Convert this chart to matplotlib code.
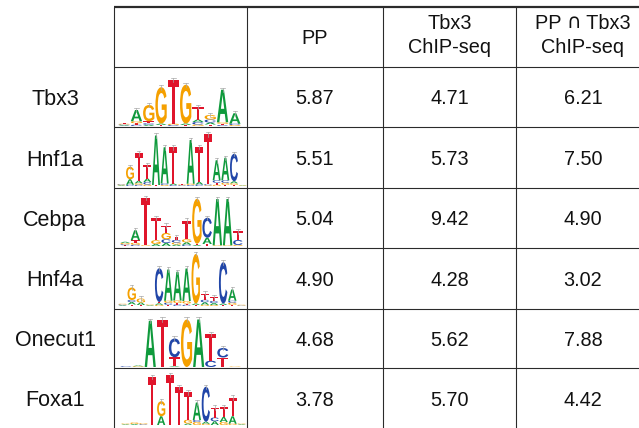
import matplotlib
matplotlib.use("Agg")
import matplotlib.pyplot as plt
from matplotlib.textpath import TextPath
from matplotlib.patches import PathPatch
from matplotlib.transforms import Affine2D
from matplotlib.font_manager import FontProperties
from matplotlib.offsetbox import TextArea, HPacker, AnnotationBbox

# ---------------------------------------------------------------- data
factors = ["Tbx3", "Hnf1a", "Cebpa", "Hnf4a", "Onecut1", "Foxa1"]
col_headers = ["PP", "Tbx3\nChIP-seq", "PP \u2229 Tbx3\nChIP-seq"]
pp_scores = [5.87, 5.51, 5.04, 4.90, 4.68, 3.78]
tbx3_chip_scores = [4.71, 5.73, 9.42, 4.28, 5.62, 5.70]
overlap_scores = [6.21, 7.50, 4.90, 3.02, 7.88, 4.42]

# sequence logos: one stack per position, letters bottom -> top, height in bits
logo_tbx3 = [
    [("A", .03), ("C", .03), ("G", .03), ("T", .03)],
    [("C", .05), ("T", .06), ("G", .08), ("A", .45)],
    [("A", .05), ("C", .06), ("T", .08), ("G", .65)],
    [("T", .04), ("A", .06), ("G", 1.45)],
    [("C", .04), ("G", .05), ("T", 1.75)],
    [("T", .04), ("A", .06), ("G", 1.55)],
    [("G", .06), ("C", .10), ("A", .10), ("T", .50)],
    [("T", .06), ("A", .08), ("C", .12), ("G", .18)],
    [("C", .04), ("T", .05), ("G", .06), ("A", 1.30)],
    [("G", .04), ("C", .05), ("A", .42)],
]
logo_hnf1a = [
    [("A", .03), ("G", .03), ("C", .02)],
    [("C", .05), ("A", .22), ("G", .50)],
    [("C", .05), ("G", .06), ("A", .10), ("T", 1.10)],
    [("G", .06), ("C", .10), ("A", .14), ("T", .55)],
    [("T", .04), ("A", 1.98)],
    [("G", .04), ("C", .06), ("A", 1.45)],
    [("C", .04), ("A", .06), ("T", 1.45)],
    [("C", .03), ("G", .03), ("T", .04)],
    [("C", .04), ("G", .05), ("A", 1.75)],
    [("C", .06), ("A", .10), ("T", 1.40)],
    [("G", .03), ("C", .04), ("T", 2.00)],
    [("G", .05), ("T", .08), ("C", .10), ("A", .80)],
    [("T", .05), ("G", .08), ("C", .10), ("A", .90)],
    [("T", .05), ("G", .06), ("A", .08), ("C", 1.10)],
    [("A", .02), ("G", .02)],
]
logo_cebpa = [
    [("T", .03), ("C", .04), ("G", .05), ("A", .05)],
    [("C", .05), ("G", .08), ("T", .10), ("A", .40)],
    [("G", .03), ("T", 1.90)],
    [("A", .08), ("G", .15), ("T", .90)],
    [("A", .12), ("C", .15), ("G", .25), ("T", .30)],
    [("A", .06), ("G", .08), ("C", .10), ("T", .12)],
    [("C", .05), ("A", .10), ("G", .12), ("T", .75)],
    [("A", .04), ("T", .05), ("G", 1.80)],
    [("T", .08), ("A", .25), ("C", .80)],
    [("G", .03), ("A", 1.85)],
    [("G", .03), ("A", 1.85)],
    [("G", .04), ("C", .20), ("T", .35)],
]
logo_hnf4a = [
    [("A", .03), ("C", .03), ("G", .03)],
    [("T", .06), ("A", .10), ("C", .08), ("G", .50)],
    [("T", .04), ("A", .10), ("G", .16)],
    [("A", .03), ("G", .03)],
    [("G", .05), ("A", .06), ("T", .05), ("C", 1.35)],
    [("T", .05), ("C", .08), ("G", .08), ("A", 1.25)],
    [("C", .06), ("T", .06), ("G", .10), ("A", 1.15)],
    [("C", .05), ("T", .05), ("G", .10), ("A", 1.30)],
    [("T", .04), ("A", .06), ("G", 1.98)],
    [("G", .05), ("A", .10), ("C", .10), ("T", .25)],
    [("G", .04), ("A", .08), ("C", .08), ("T", .15)],
    [("T", .04), ("A", .06), ("C", 1.65)],
    [("T", .05), ("G", .08), ("C", .08), ("A", .45)],
    [("C", .02), ("G", .03)],
]
logo_onecut1 = [
    [("C", .03), ("T", .03)],
    [("G", .03), ("A", .03)],
    [("A", 1.85)],
    [("T", 1.90)],
    [("A", .03), ("T", .36), ("C", .75)],
    [("G", 1.90)],
    [("A", 1.90)],
    [("C", .25), ("T", 1.07)],
    [("T", .38), ("C", .38)],
    [("G", .02)],
]
logo_foxa1 = [
    [("A", .03), ("G", .03)],
    [("A", .04), ("G", .06)],
    [("C", .03), ("G", .04)],
    [("T", 1.92)],
    [("A", .35), ("G", .60)],
    [("T", 2.00)],
    [("T", 1.52)],
    [("A", .06), ("G", .15), ("T", 1.10)],
    [("G", .12), ("C", .08), ("A", .70)],
    [("G", .05), ("A", .08), ("C", 1.40)],
    [("A", .15), ("C", .15), ("T", .40)],
    [("G", .12), ("A", .20), ("T", .40)],
    [("G", .05), ("A", .30), ("T", .75)],
    [("A", .03), ("G", .03)],
]
logos = [logo_tbx3, logo_hnf1a, logo_cebpa, logo_hnf4a, logo_onecut1, logo_foxa1]

# ---------------------------------------------------------------- style
W, H = 639, 428
LINE_COLOR = "#2b2b2b"
TEXT_COLOR = "#111111"
BASE_COLORS = {"A": "#0f9a3c", "C": "#2146a8", "G": "#f5a000", "T": "#e0152b"}
FONT = ["Liberation Sans", "DejaVu Sans"]
GLYPH_FP = FontProperties(family="Liberation Sans", weight="bold")

# table grid (pixels)
col_edges = [114, 247, 383, 516]
row_edges = [7, 67, 127, 188, 248, 309, 368, 429]
label_x = 55
value_cols_x = [315, 449.5, 583]
# horizontal extent and baseline of each logo (pixels)
logo_spans = [(118, 241), (117, 247), (120, 243), (118, 246), (120, 241), (121, 246)]
logo_baselines = [126, 186, 246, 306, 367, 425]
PX_PER_BIT = 25.0
LOGO_HEIGHT_PX = 57
ERR = 0.09

HEADER_SIZE = 14.3
LABEL_SIZE = 15.5
VALUE_SIZE = 14.3

fig = plt.figure(figsize=(W / 100, H / 100), dpi=100)
fig.patch.set_facecolor("white")
ax = fig.add_axes([0, 0, 1, 1])
ax.set_xlim(0, W)
ax.set_ylim(H, 0)
ax.axis("off")

px = 0.72  # points per pixel at 100 dpi

# grid lines
ax.plot([col_edges[0], W], [row_edges[0], row_edges[0]], color=LINE_COLOR,
        lw=2.2 * px, solid_capstyle="butt")
for y in row_edges[1:-1]:
    ax.plot([col_edges[0], W], [y, y], color=LINE_COLOR, lw=1.1 * px,
            solid_capstyle="butt")
for x in col_edges:
    ax.plot([x, x], [row_edges[0], H], color=LINE_COLOR, lw=1.1 * px,
            solid_capstyle="butt")


def header_line(x, y, s):
    """Header text at baseline y; the set-intersection sign uses DejaVu Sans."""
    if "\u2229" not in s:
        ax.text(x, y, s, ha="center", va="baseline", fontsize=HEADER_SIZE,
                family=FONT, color=TEXT_COLOR)
        return
    parts = []
    pieces = s.split("\u2229")
    for j, piece in enumerate(pieces):
        if piece:
            parts.append(TextArea(piece, textprops=dict(
                fontsize=HEADER_SIZE, family=FONT, color=TEXT_COLOR)))
        if j < len(pieces) - 1:
            parts.append(TextArea("\u2229", textprops=dict(
                fontsize=HEADER_SIZE, family="DejaVu Sans", color=TEXT_COLOR)))
    box = HPacker(children=parts, align="baseline", pad=0, sep=0)
    ab = AnnotationBbox(box, (x, y - 6), xycoords="data", box_alignment=(0.5, 0.5),
                        frameon=False, pad=0)
    ax.add_artist(ab)


# header
for x, hdr in zip(value_cols_x, col_headers):
    lines = hdr.split("\n")
    if len(lines) == 1:
        header_line(x, 44, lines[0])
    else:
        header_line(x, 29, lines[0])
        header_line(x, 53, lines[1])

# body rows
for i, name in enumerate(factors):
    yc = (row_edges[i + 1] + row_edges[i + 2]) / 2
    ax.text(label_x, yc + 8, name, ha="center", va="baseline", fontsize=LABEL_SIZE,
            family=FONT, color=TEXT_COLOR)
    for x, vals in zip(value_cols_x, [pp_scores, tbx3_chip_scores, overlap_scores]):
        ax.text(x, yc + 7.2, f"{vals[i]:.2f}", ha="center", va="baseline",
                fontsize=VALUE_SIZE, family=FONT, color=TEXT_COLOR)


def draw_letter(lax, ch, x0, y0, w, h, color):
    tp = TextPath((0, 0), ch, size=1, prop=GLYPH_FP)
    bb = tp.get_extents()
    tr = (Affine2D().translate(-bb.x0, -bb.y0)
          .scale(w / bb.width, h / bb.height).translate(x0, y0))
    lax.add_patch(PathPatch(tr.transform_path(tp), fc=color, ec="none", lw=0))


# sequence logos
for logo, (lx0, lx1), base in zip(logos, logo_spans, logo_baselines):
    lax = fig.add_axes([lx0 / W, 1 - base / H, (lx1 - lx0) / W, LOGO_HEIGHT_PX / H])
    lax.set_xlim(0, len(logo))
    lax.set_ylim(0, LOGO_HEIGHT_PX / PX_PER_BIT)
    lax.axis("off")
    for k, stack in enumerate(logo):
        y = 0.0
        for ch, hgt in stack:
            draw_letter(lax, ch, k + 0.04, y, 0.92, hgt, BASE_COLORS[ch])
            y += hgt
        if y > 0.3:
            xc = k + 0.5
            lax.plot([xc, xc], [y - ERR, y + ERR], color="#a8a8a8", lw=0.5,
                     clip_on=False)
            lax.plot([xc - 0.18, xc + 0.18], [y + ERR, y + ERR], color="#a8a8a8",
                     lw=0.5, clip_on=False)

fig.savefig("out.png", dpi=100, facecolor="white")
